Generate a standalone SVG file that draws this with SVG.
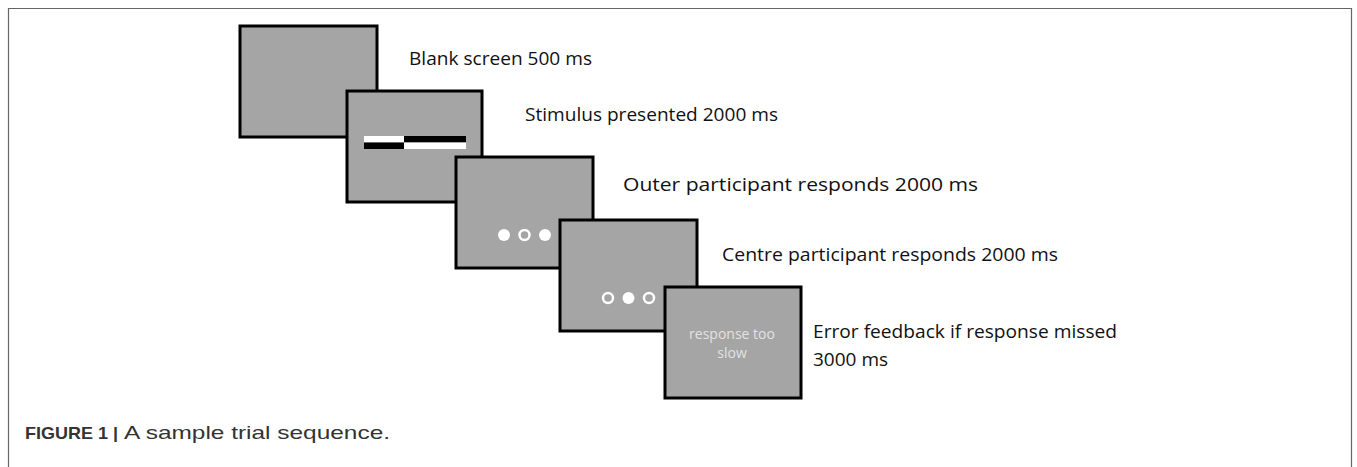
<svg xmlns="http://www.w3.org/2000/svg" width="1357" height="467" viewBox="0 0 1357 467">
<style>
.scr{fill:#a5a5a5;stroke:#000;stroke-width:3}
.lbl{font-family:"Open Sans","Liberation Sans",sans-serif;font-size:19px;fill:#111}
.dot{fill:#fff}
.ring{fill:#a5a5a5;stroke:#fff;stroke-width:2.5}
.fb{font-family:"Open Sans","Liberation Sans",sans-serif;font-size:14px;fill:#e2e2e2}
.cap{font-family:"Liberation Sans",Arial,sans-serif;font-size:17px;fill:#333}
.capr{font-family:"Liberation Sans",Arial,sans-serif;font-size:19px;fill:#333}
</style>
<rect width="1357" height="467" fill="#fff"/>
<path d="M8.5,467 V8.5 H1351.5 V467" fill="none" stroke="#666" stroke-width="1.2"/>
<g id="connectors"/>
<g id="screen1">
<rect class="scr" x="240" y="26" width="137" height="111"/>
<text class="lbl" x="409" y="65" textLength="183" lengthAdjust="spacingAndGlyphs">Blank screen 500 ms</text>
</g>
<g id="screen2">
<rect class="scr" x="347" y="91" width="135" height="111"/>
<rect x="364" y="136" width="40" height="6.5" fill="#fff"/>
<rect x="364" y="142.5" width="40" height="6.5" fill="#000"/>
<rect x="404" y="136" width="62" height="6.5" fill="#000"/>
<rect x="404" y="142.5" width="62" height="6.5" fill="#fff"/>
<text class="lbl" x="525" y="121" textLength="253" lengthAdjust="spacingAndGlyphs">Stimulus presented 2000 ms</text>
</g>
<g id="screen3">
<rect class="scr" x="456" y="157" width="137" height="111"/>
<circle class="dot" cx="504" cy="235" r="6"/>
<circle class="ring" cx="524.5" cy="235" r="5"/>
<circle class="dot" cx="545" cy="235" r="6"/>
<text class="lbl" x="623" y="191" textLength="355" lengthAdjust="spacingAndGlyphs">Outer participant responds 2000 ms</text>
</g>
<g id="screen4">
<rect class="scr" x="560" y="220" width="137" height="111"/>
<circle class="ring" cx="608" cy="298" r="5"/>
<circle class="dot" cx="628.5" cy="298" r="6"/>
<circle class="ring" cx="649" cy="298" r="5"/>
<text class="lbl" x="722" y="261" textLength="336" lengthAdjust="spacingAndGlyphs">Centre participant responds 2000 ms</text>
</g>
<g id="screen5">
<rect class="scr" x="665" y="287" width="136" height="111"/>
<text class="fb" x="732" y="339" text-anchor="middle">response too</text>
<text class="fb" x="732" y="358" text-anchor="middle">slow</text>
<text class="lbl" x="813" y="338" textLength="304" lengthAdjust="spacingAndGlyphs">Error feedback if response missed</text>
<text class="lbl" x="813" y="366">3000 ms</text>
</g>
<text class="cap" x="25" y="439" font-weight="bold" textLength="93" lengthAdjust="spacingAndGlyphs">FIGURE 1 |</text>
<text class="capr" x="124" y="439" textLength="266" lengthAdjust="spacingAndGlyphs">A sample trial sequence.</text>
</svg>
